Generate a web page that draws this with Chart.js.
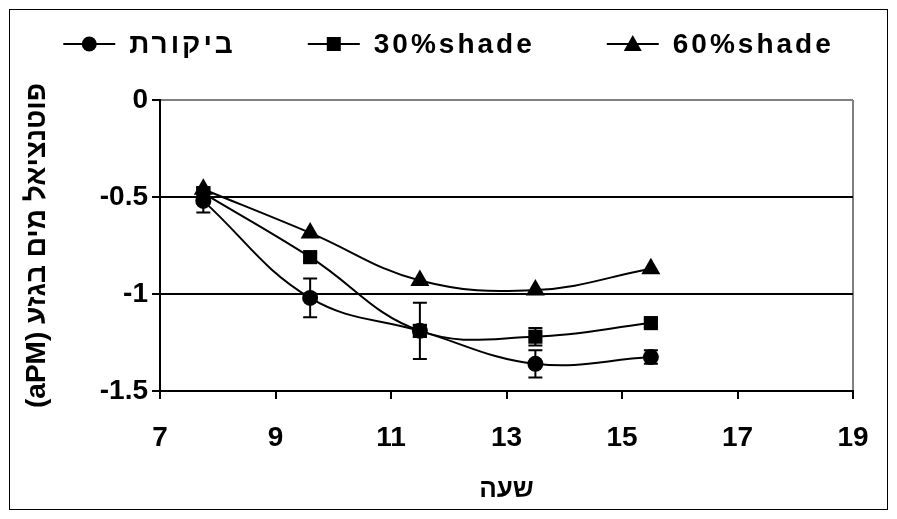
<!DOCTYPE html>
<html>
<head>
<meta charset="utf-8">
<script src="https://cdn.jsdelivr.net/npm/chart.js@4.4.0/dist/chart.umd.min.js"></script>
<style>
  body { margin: 0; background: #fff; }
  #wrap { width: 897px; height: 519px; position: relative; }
</style>
</head>
<body>
<div id="wrap"><canvas id="Chart" width="897" height="519"></canvas></div>
<script>
// hours of measurement
let hours = [7.75, 9.6, 11.5, 13.5, 15.5];

let seriesNames = ['ביקורת', '30%shade', '60%shade'];
let control = [-0.52, -1.02, -1.19, -1.36, -1.325];
let shade30 = [-0.48, -0.81, -1.19, -1.22, -1.15];
let shade60 = [-0.46, -0.685, -0.93, -0.98, -0.87];

// error bar half widths
let controlErr = [0.06, 0.10, 0.03, 0.07, 0.035];
let shade30Err = [0.03, 0.02, 0.145, 0.045, 0.02];
let shade60Err = [0, 0, 0, 0, 0];

let xTicks = [7, 9, 11, 13, 15, 17, 19];
let yTicks = [0, -0.5, -1, -1.5];

let xTitle = 'שעה';
let yTitle = '(aPM) פוטנציאל מים בגזע';

const FONT = "'Liberation Sans', Arial, sans-serif";

function drawMarker(g, style, x, y) {
    g.beginPath();
    if (style === 'circle') {
        g.arc(x, y, 7.5, 0, Math.PI * 2);
    } else if (style === 'rect') {
        g.rect(x - 7, y - 7, 14, 14);
    } else {
        g.moveTo(x, y - 9);
        g.lineTo(x + 9, y + 7);
        g.lineTo(x - 9, y + 7);
        g.closePath();
    }
    g.fill();
}

function toPoints(ys) {
    return hours.map((h, i) => ({ x: h, y: ys[i] }));
}

let styles = ['circle', 'rect', 'triangle'];
let radii = [8, 10, 11];
let values = [control, shade30, shade60];
let errors = [controlErr, shade30Err, shade60Err];

let chartdata = {
    datasets: values.map((v, k) => ({
        label: seriesNames[k],
        data: toPoints(v),
        err: errors[k],
        borderColor: '#000000',
        backgroundColor: '#000000',
        borderWidth: 2,
        pointStyle: styles[k],
        pointRadius: radii[k],
        pointBorderWidth: 0,
        tension: 0.4
    }))
};

const errorBars = {
    id: 'errorBars',
    beforeDatasetsDraw(chart) {
        let ctx = chart.ctx;
        let xs = chart.scales.x, ys = chart.scales.y;
        ctx.save();
        ctx.strokeStyle = '#000';
        ctx.lineWidth = 2;
        chart.data.datasets.forEach(ds => {
            ds.data.forEach((p, i) => {
                let e = ds.err[i];
                if (!e) return;
                let px = xs.getPixelForValue(p.x);
                let top = ys.getPixelForValue(p.y + e);
                let bot = ys.getPixelForValue(p.y - e);
                ctx.beginPath();
                ctx.moveTo(px, top); ctx.lineTo(px, bot);
                ctx.moveTo(px - 7, top); ctx.lineTo(px + 7, top);
                ctx.moveTo(px - 7, bot); ctx.lineTo(px + 7, bot);
                ctx.stroke();
            });
        });
        ctx.restore();
    }
};

// legend: line + marker + label, items spread across the top
const legendRow = {
    id: 'legendRow',
    afterDraw(chart) {
        let ctx = chart.ctx;
        let iconW = 52, gapText = 14, gapItem = 72, cy = 44;
        ctx.save();
        ctx.font = 'bold 28px ' + FONT;
        ctx.letterSpacing = '3px';
        let widths = chart.data.datasets.map(ds => iconW + gapText + ctx.measureText(ds.label).width);
        let total = widths.reduce((a, b) => a + b, 0) + gapItem * (widths.length - 1);
        let x = (chart.width - total) / 2;
        chart.data.datasets.forEach((ds, i) => {
            ctx.strokeStyle = '#000';
            ctx.fillStyle = '#000';
            ctx.lineWidth = 2;
            ctx.beginPath();
            ctx.moveTo(x, cy);
            ctx.lineTo(x + iconW, cy);
            ctx.stroke();
            drawMarker(ctx, ds.pointStyle, x + iconW / 2, cy);
            ctx.textAlign = 'left';
            ctx.textBaseline = 'middle';
            ctx.fillText(ds.label, x + iconW + gapText, cy + 1);
            x += widths[i] + gapItem;
        });
        ctx.restore();
    }
};

const frame = {
    id: 'frame',
    afterDraw(chart) {
        let ctx = chart.ctx;
        ctx.save();
        ctx.strokeStyle = '#000';
        ctx.lineWidth = 1;
        ctx.strokeRect(9.5, 9.5, 878, 500);
        ctx.restore();
    }
};

let graphTarget = document.getElementById('Chart');
let lineGraph = new Chart(graphTarget, {
    type: 'line',
    data: chartdata,
    plugins: [errorBars, legendRow, frame],
    options: {
        responsive: false,
        animation: false,
        layout: { padding: { left: 16, right: 44, top: 100, bottom: 10 } },
        plugins: {
            tooltip: { enabled: false },
            legend: { display: false }
        },
        scales: {
            x: {
                type: 'linear',
                min: 7,
                max: 19,
                afterBuildTicks(scale) { scale.ticks = xTicks.map(v => ({ value: v })); },
                afterFit(scale) { scale.height = 118; },
                border: { color: '#000', width: 2 },
                grid: {
                    drawOnChartArea: true,
                    color: c => (c.tick && c.tick.value === 19) ? '#808080' : 'rgba(0,0,0,0)',
                    tickColor: '#000',
                    tickLength: 8,
                    lineWidth: 2
                },
                ticks: {
                    color: '#000',
                    font: { family: FONT, size: 28, weight: 'bold' },
                    padding: 22,
                    maxRotation: 0
                },
                title: {
                    display: true,
                    text: xTitle,
                    color: '#000',
                    font: { family: FONT, size: 26, weight: 'bold' },
                    padding: { top: 6, bottom: 4 }
                }
            },
            y: {
                type: 'linear',
                min: -1.5,
                max: 0,
                afterBuildTicks(scale) { scale.ticks = yTicks.map(v => ({ value: v })); },
                afterFit(scale) { scale.width = 144; },
                border: { color: '#000', width: 2 },
                grid: {
                    color: c => {
                        if (!c.tick) return 'rgba(0,0,0,0)';
                        if (c.tick.value === 0) return '#808080';
                        return '#000';
                    },
                    tickColor: '#000',
                    tickLength: 8,
                    lineWidth: 2
                },
                ticks: {
                    color: '#000',
                    font: { family: FONT, size: 28, weight: 'bold' },
                    padding: 4,
                    callback: v => String(v)
                },
                title: {
                    display: true,
                    text: yTitle,
                    color: '#000',
                    font: { family: FONT, size: 28, weight: 'bold' },
                    padding: { bottom: 2 }
                }
            }
        }
    }
});
</script>
</body>
</html>
